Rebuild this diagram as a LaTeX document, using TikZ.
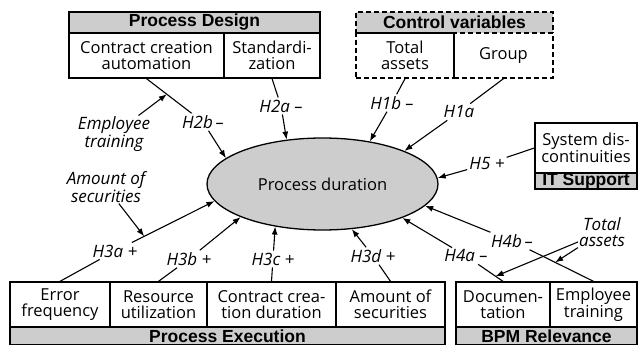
\documentclass[tikz,border=0pt]{standalone}
\usepackage{fontspec}
\setmainfont{Open Sans}
\newfontfamily\headfont{Liberation Sans}
\usetikzlibrary{shapes, arrows.meta}
\definecolor{boxgray}{RGB}{205, 205, 205}

\begin{document}
\begin{tikzpicture}[x=1pt, y=-1pt,
  cell/.style={draw, line width=1.3pt, inner sep=0pt, align=center, minimum height=45pt, font=\fontsize{16.5}{15.5}\selectfont},
  head/.style={draw, line width=1.3pt, fill=boxgray, inner sep=0pt, minimum height=21pt, font=\headfont\bfseries\fontsize{17.5}{17}\selectfont},
  ctrl/.style={dash pattern=on 5pt off 3pt},
  hyp/.style={font=\itshape\fontsize{17}{17}\selectfont, inner sep=2pt},
  moder/.style={font=\itshape\fontsize{17}{16}\selectfont, align=center, inner sep=1pt},
  link/.style={line width=1.1pt},
  arr/.style={line width=1.1pt, -{Latex[length=8pt, width=6pt]}}
]
  \clip (0, 0) rectangle (638, 345);
  \fill[white] (0, 0) rectangle (638, 345);

  % Outcome
  \node[draw, ellipse, line width=1.3pt, fill=boxgray, minimum width=231pt, minimum height=92pt, font=\fontsize{16.5}{15}\selectfont] (dur) at (322.5, 184) {Process duration};

  % Process design
  \node[head, minimum width=251pt] (pdhead) at (194.5, 22.5) {Process Design};
  \node[cell, minimum width=155pt] (pdauto) at (146.5, 55.5) {Contract creation\\automation};
  \node[cell, minimum width=96pt] (pdstd) at (272, 55.5) {Standardi-\\zation};

  % Control variables
  \node[head, ctrl, minimum width=197pt] (cvhead) at (454.5, 22.5) {Control variables};
  \node[cell, ctrl, minimum width=98pt] (cvtot) at (405, 55.5) {Total\\assets};
  \node[cell, ctrl, minimum width=99pt] (cvgrp) at (503.5, 55.5) {Group};

  % IT support
  \node[cell, minimum width=102pt, minimum height=50pt] (itsys) at (586, 148) {System dis-\\continuities};
  \node[head, minimum width=102pt, minimum height=16pt] (ithead) at (586, 181) {IT Support};

  % Process execution
  \node[cell, minimum width=100pt] (peerr) at (60, 304.5) {Error\\frequency};
  \node[cell, minimum width=97pt] (peres) at (158.5, 304.5) {Resource\\utilization};
  \node[cell, minimum width=129pt] (pecon) at (271.5, 304.5) {Contract crea-\\tion duration};
  \node[cell, minimum width=109pt] (peamt) at (390.5, 304.5) {Amount of\\securities};
  \node[head, minimum width=435pt, minimum height=18pt] (pehead) at (227.5, 336) {Process Execution};

  % BPM relevance
  \node[cell, minimum width=94pt] (bpdoc) at (503, 304.5) {Documen-\\tation};
  \node[cell, minimum width=87pt] (bpemp) at (593.5, 304.5) {Employee\\training};
  \node[head, minimum width=181pt, minimum height=18pt] (bphead) at (546.5, 336) {BPM Relevance};

  % Hypotheses
  \node[hyp] (h2b) at (203, 122) {H2b\,--};
  \node[hyp] (h2a) at (281, 106) {H2a --};
  \node[hyp] (h1b) at (392, 103) {H1b --};
  \node[hyp] (h1a) at (459, 112) {H1a};
  \node[hyp] (h5) at (487, 164) {H5 +};
  \node[hyp] (h4b) at (512, 241) {H4b\,--};
  \node[hyp] (h4a) at (466, 256) {H4a --};
  \node[hyp] (h3d) at (373, 256) {H3d +};
  \node[hyp] (h3c) at (273, 259) {H3c +};
  \node[hyp] (h3b) at (189, 259) {H3b +};
  \node[hyp] (h3a) at (115, 251) {H3a +};

  % Moderators
  \node[moder] (emptr) at (114, 134) {Employee\\training};
  \node[moder] (amtsec) at (106, 187) {Amount of\\securities};
  \node[moder] (totas) at (602, 232) {Total\\assets};

  % Connectors
  \draw[link] (pdauto.south) -- coordinate[pos=0.45] (m2b) (h2b);
  \draw[arr] (h2b) -- (dur.165);
  \draw[arr] (emptr) -- (m2b);
  \draw[link] (pdstd.south) -- (h2a);
  \draw[arr] (h2a) -- (dur.129);
  \draw[link] (cvtot.south) -- (h1b);
  \draw[arr] (h1b) -- (dur.42);
  \draw[link] (cvgrp.south) -- (h1a);
  \draw[arr] (h1a) -- (dur.22);
  \draw[link] (itsys.west) -- (h5);
  \draw[arr] (h5) -- (dur.3);
  \draw[link] (bpemp.north) -- coordinate[pos=0.6] (m4b) (h4b);
  \draw[arr] (h4b) -- (dur.-12);
  \draw[link] (bpdoc.north) -- coordinate[pos=0.3] (m4a) (h4a);
  \draw[arr] (h4a) -- (dur.-23);
  \draw[arr] (totas) -- (m4a);
  \draw[arr] (totas) -- (m4b);
  \draw[link] (peamt.north) -- (h3d);
  \draw[arr] (h3d) -- (dur.-57);
  \draw[link] (pecon.north) -- (h3c);
  \draw[arr] (h3c) -- (dur.222);
  \draw[link] (peres.north) -- (h3b);
  \draw[arr] (h3b) -- (dur.202);
  \draw[link] (peerr.north) -- (h3a);
  \draw[arr] (h3a) -- coordinate[pos=0.15] (m3a) (dur.189);
  \draw[arr] (amtsec) -- (m3a);
\end{tikzpicture}
\end{document}
